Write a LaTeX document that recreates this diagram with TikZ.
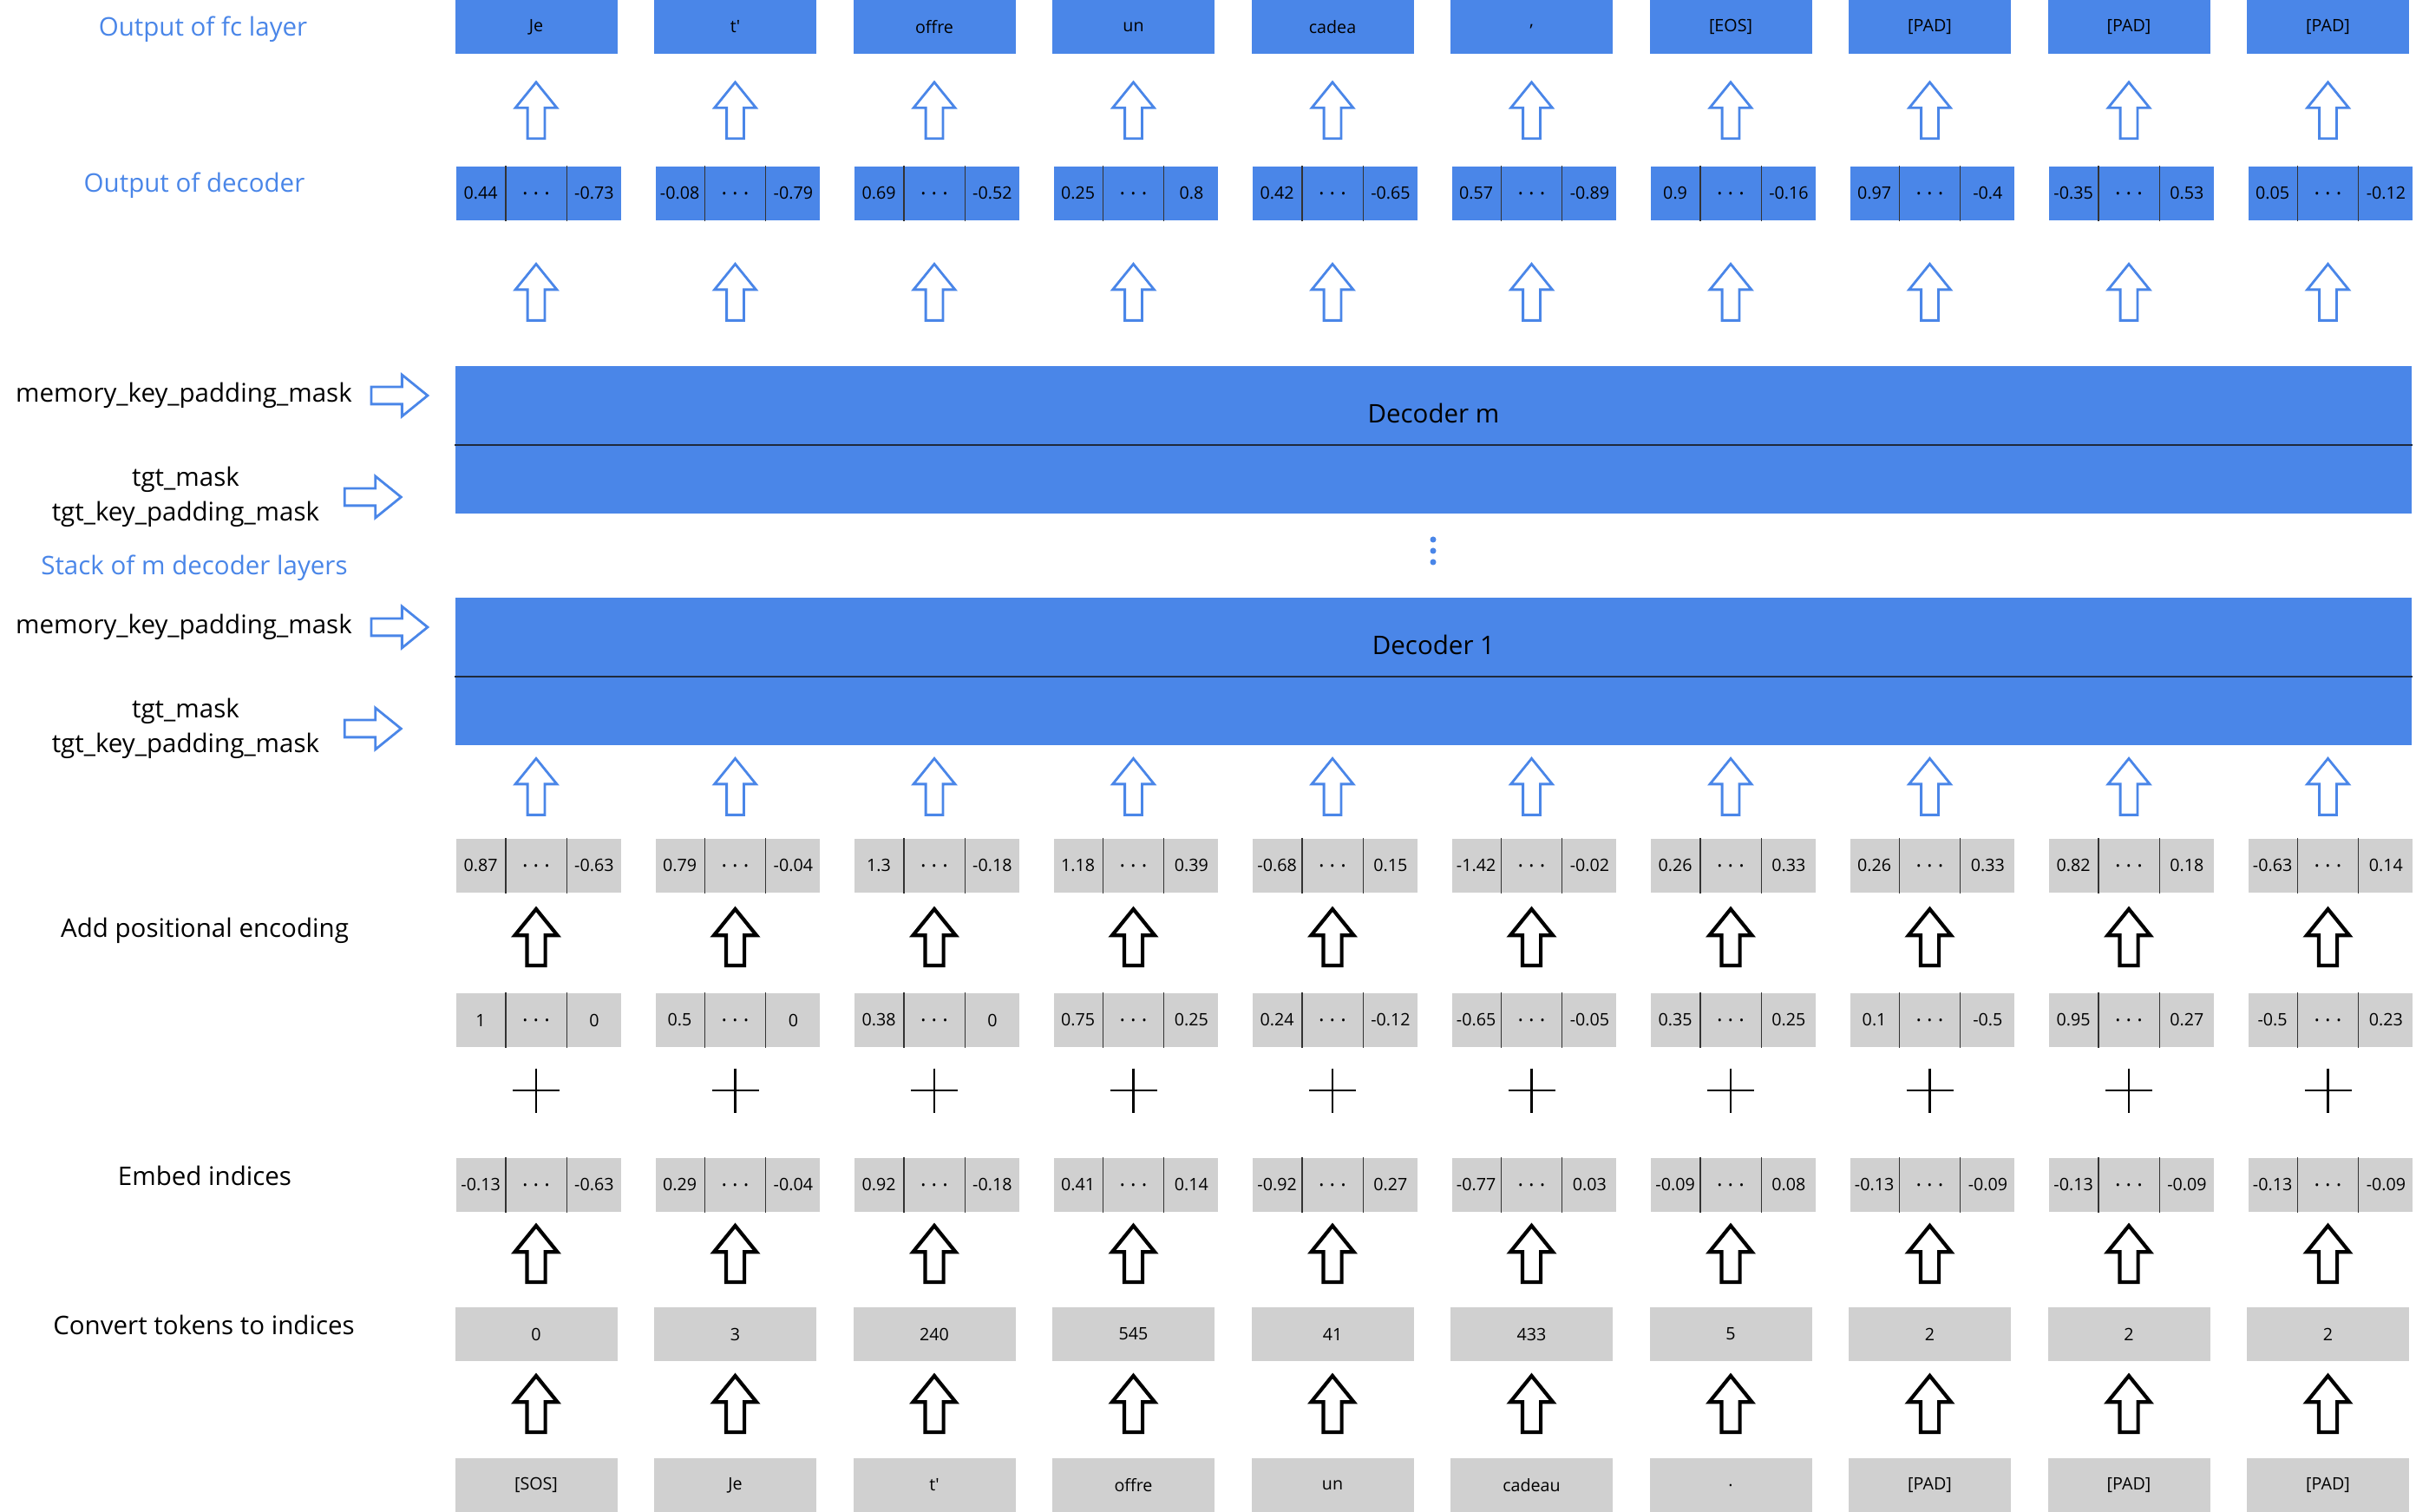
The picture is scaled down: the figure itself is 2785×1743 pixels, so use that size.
\documentclass[tikz,border=0pt]{standalone}
\usepackage{fontspec}
\setmainfont{Open Sans}
\usepackage{xcolor}
\usepackage{tikz}
\usetikzlibrary{arrows.meta,positioning,shapes.arrows,calc}

\definecolor{gblue}{HTML}{4A86E8}
\definecolor{ggray}{HTML}{D0D0D0}
\definecolor{sepclr}{HTML}{1F2A3C}

\newcommand{\celldots}{\fontsize{7}{8}\selectfont.\kern0.25em.\kern0.25em.}
% one embedding vector: three cells, the middle one named #1b
\newcommand{\vecnode}[6]{%
  \node[cellb, fill=#6] (#1b) at (#2,#3) {\celldots};
  \node[cella, fill=#6, left=0pt of #1b] (#1a) {#4};
  \node[cellc, fill=#6, right=0pt of #1b] (#1c) {#5};
  \draw[divider] (#1b.north west) -- (#1b.south west)
                 (#1b.north east) -- (#1b.south east);
}

\begin{document}
\begin{tikzpicture}[x=0.1mm, y=-0.1mm,
  lbl/.style={font=\fontsize{8.4}{11.4}\selectfont, align=center, inner sep=0pt},
  bluelbl/.style={lbl, text=gblue},
  tokbox/.style={rectangle, fill=ggray, minimum width=18.7mm, minimum height=6.2mm,
                 inner sep=0pt, font=\fontsize{5.6}{7}\selectfont},
  fcbox/.style={tokbox, fill=gblue},
  cell/.style={rectangle, minimum height=6.2mm, inner sep=0pt,
               font=\fontsize{5.6}{7}\selectfont},
  cella/.style={cell, minimum width=5.6mm},
  cellb/.style={cell, minimum width=6.9mm},
  cellc/.style={cell, minimum width=6.2mm},
  divider/.style={draw=black!80, line width=0.4pt},
  sepline/.style={draw=sepclr, line width=0.6pt},
  uparr/.style={single arrow, draw=black, line width=1.2pt, fill=white,
                shape border rotate=90, minimum height=6.5mm, minimum width=4.5mm,
                single arrow head extend=1.4mm, single arrow tip angle=78,
                inner sep=0.85mm},
  bluearr/.style={uparr, draw=gblue, line width=0.8pt},
  rightarr/.style={bluearr, shape border rotate=0},
  decoder/.style={rectangle, fill=gblue, minimum width=225.5mm,
                  minimum height=17mm, inner sep=0pt}
]
  \useasboundingbox (0,0) rectangle (2785,1743);

  % decoder stack
  \node[decoder] (decm) at (1652.5,507) {};
  \node[decoder] (dec1) at (1652.5,774) {};
  \draw[sepline] ($(decm.north west)!0.535!(decm.south west)$) -- ($(decm.north east)!0.535!(decm.south east)$);
  \draw[sepline] ($(dec1.north west)!0.535!(dec1.south west)$) -- ($(dec1.north east)!0.535!(dec1.south east)$);
  \node[lbl] (decmtxt) at ($(decm.north)!0.32!(decm.south)$) {Decoder m};
  \node[lbl] (dec1txt) at ($(dec1.north)!0.32!(dec1.south)$) {Decoder 1};
  \foreach \k in {622,635,648}
    \fill[gblue] (1652,\k) circle (0.35mm);

  % left labels
  \node[bluelbl] (lfc) at (234,34) {Output of fc layer};
  \node[bluelbl] (lout) at (224,214) {Output of decoder};
  \node[lbl] (memm) at (212,456) {memory\_key\_padding\_mask};
  \node[lbl] (tgtm) at (214,573) {tgt\_mask\\tgt\_key\_padding\_mask};
  \node[bluelbl] (lstack) at (224,655) {Stack of m decoder layers};
  \node[lbl] (mem1) at (212,723) {memory\_key\_padding\_mask};
  \node[lbl] (tgt1) at (214,840) {tgt\_mask\\tgt\_key\_padding\_mask};
  \node[lbl] (lpos) at (236,1073) {Add positional encoding};
  \node[lbl] (lemb) at (236,1355) {Embed indices};
  \node[lbl] (lidx) at (235,1527) {Convert tokens to indices};

  \node[rightarr, right=2mm of memm] (amemm) {};
  \node[rightarr, right=2.7mm of tgtm] (atgtm) {};
  \node[rightarr, right=2mm of mem1] (amem1) {};
  \node[rightarr, right=2.7mm of tgt1] (atgt1) {};

  % columns
  \foreach \fc/\da/\db/\sa/\sb/\pa/\pb/\ea/\eb/\idx/\tok [count=\i from 0] in {
      Je/0.44/-0.73/0.87/-0.63/1/0/-0.13/-0.63/0/[SOS],
      t\textquotesingle/-0.08/-0.79/0.79/-0.04/0.5/0/0.29/-0.04/3/Je,
      offre/0.69/-0.52/1.3/-0.18/0.38/0/0.92/-0.18/240/t\textquotesingle,
      un/0.25/0.8/1.18/0.39/0.75/0.25/0.41/0.14/545/offre,
      cadea/0.42/-0.65/-0.68/0.15/0.24/-0.12/-0.92/0.27/41/un,
      {,}/0.57/-0.89/-1.42/-0.02/-0.65/-0.05/-0.77/0.03/433/cadeau,
      [EOS]/0.9/-0.16/0.26/0.33/0.35/0.25/-0.09/0.08/5/.,
      [PAD]/0.97/-0.4/0.26/0.33/0.1/-0.5/-0.13/-0.09/2/[PAD],
      [PAD]/-0.35/0.53/0.82/0.18/0.95/0.27/-0.13/-0.09/2/[PAD],
      [PAD]/0.05/-0.12/-0.63/0.14/-0.5/0.23/-0.13/-0.09/2/[PAD]} {
    \pgfmathsetmacro\cx{618+229.5*\i}
    \node[fcbox] (fc\i) at (\cx,31) {\fc};
    \vecnode{out\i}{\cx}{223}{\da}{\db}{gblue}
    \vecnode{sum\i}{\cx}{998}{\sa}{\sb}{ggray}
    \vecnode{pos\i}{\cx}{1176}{\pa}{\pb}{ggray}
    \vecnode{emb\i}{\cx}{1366}{\ea}{\eb}{ggray}
    \node[tokbox] (idx\i) at (\cx,1538) {\idx};
    \node[tokbox] (tok\i) at (\cx,1712) {\tok};

    \node[bluearr] (aa\i) at ($(fc\i.south)!0.55!(out\i b.north)$) {};
    \node[bluearr] (ab\i) at ($(out\i b.south)!0.53!(out\i b.south |- decm.north)$) {};
    \node[bluearr] (ac\i) at ($(sum\i b.north)!0.5!(sum\i b.north |- dec1.south)$) {};
    \node[uparr] (ad\i) at ($(pos\i b.north)!0.5!(sum\i b.south)$) {};
    \coordinate (plus\i) at ($(pos\i b.south)!0.39!(emb\i b.north)$);
    \draw[line width=0.6pt] (plus\i) ++(-27,0) -- ++(54,0)
                            (plus\i) ++(0,-25.5) -- ++(0,51);
    \node[uparr] (ae\i) at ($(idx\i.north)!0.5!(emb\i b.south)$) {};
    \node[uparr] (af\i) at ($(tok\i.north)!0.5!(idx\i.south)$) {};
  }
\end{tikzpicture}
\end{document}
